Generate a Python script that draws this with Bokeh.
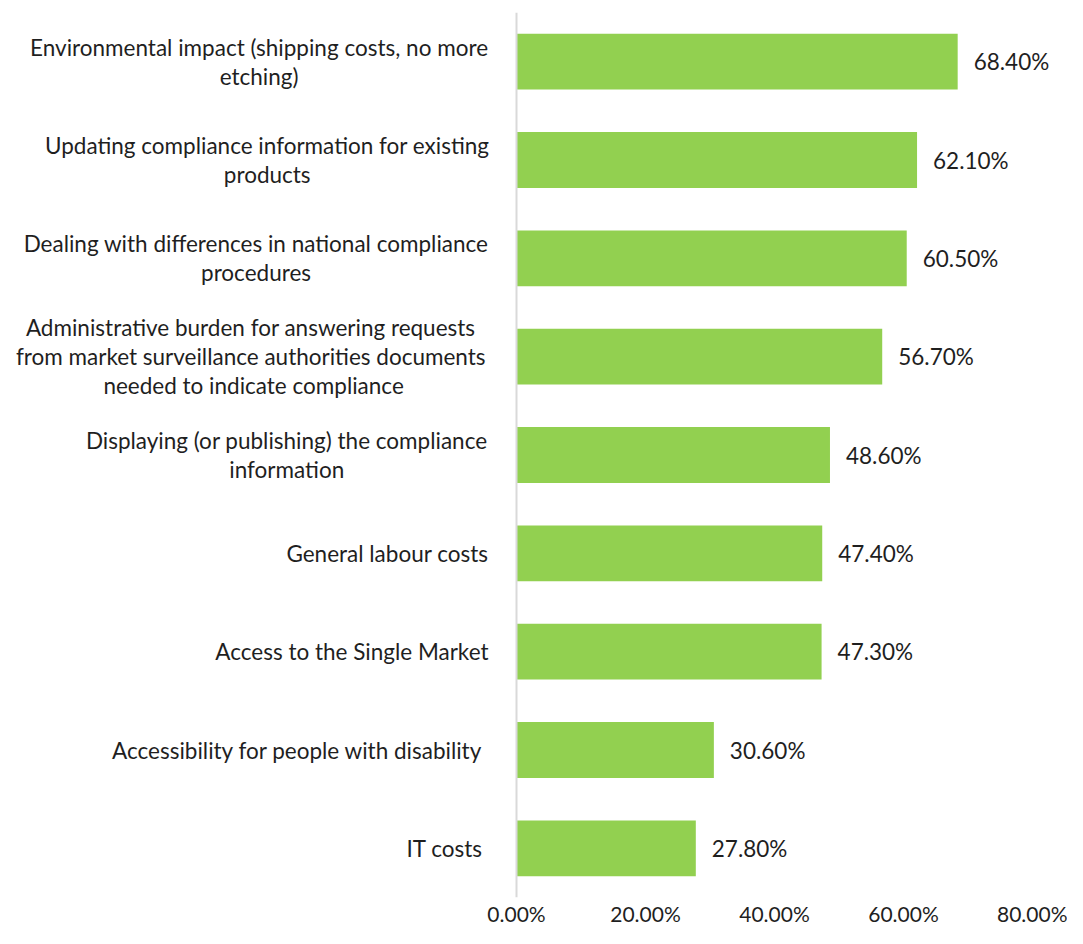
from bokeh.plotting import figure
from bokeh.models import Range1d, FactorRange, FixedTicker, Span, ColumnDataSource
from bokeh.core.properties import value
from bokeh.embed import file_html
from bokeh.resources import INLINE

# ---- data (top to bottom) ----
categories = [
    "Environmental impact (shipping costs, no more\netching)",
    "Updating compliance information for existing\nproducts",
    "Dealing with differences in national compliance\nprocedures",
    "Administrative burden for answering requests \nfrom market surveillance authorities  documents\nneeded to indicate compliance",
    "Displaying (or publishing) the compliance\ninformation",
    "General labour costs",
    "Access to the Single Market",
    "Accessibility for people with disability ",
    "IT costs ",
]
values = [68.4, 62.1, 60.5, 56.7, 48.6, 47.4, 47.3, 30.6, 27.8]
x_ticks = [0, 20, 40, 60, 80]
tick_labels = ["0.00%", "20.00%", "40.00%", "60.00%", "80.00%"]

# ---- layout constants ----
FONT = "Lato"
FS = 22.5
TICK_FS = 21
W, H = 1067, 928
ZERO_PX = 516          # px from figure left to zero line
MAX_PX = 1032          # px from figure left to 80 %
X_MAX = 80
ppu = (MAX_PX - ZERO_PX) / X_MAX
x_start = -ZERO_PX / ppu
x_end = (W - ZERO_PX) / ppu
LABEL_GAP = 28
LINE_PX = 29

# approximate glyph widths (em) used to center multi-line labels
_w = {' ': 0.20, '(': 0.31, ')': 0.31, ',': 0.25, '.': 0.25, 'f': 0.30, 'i': 0.23,
      'j': 0.23, 'l': 0.23, 'r': 0.35, 't': 0.33, 'm': 0.83, 'w': 0.74, 'c': 0.47,
      's': 0.42, 'k': 0.48, 'v': 0.49, 'x': 0.48, 'y': 0.49, 'z': 0.45,
      'A': 0.66, 'D': 0.72, 'E': 0.58, 'G': 0.72, 'I': 0.27, 'M': 0.87, 'S': 0.52,
      'T': 0.57, 'U': 0.71}

def text_w(s):
    collapsed = " ".join(s.split()) + (" " if s.endswith(" ") else "")
    return sum(_w.get(ch, 0.54) for ch in collapsed) * FS * 1.026

def label_offset(lbl):
    lines = lbl.split("\n")
    if len(lines) == 1:
        return -LABEL_GAP
    return -LABEL_GAP - max(text_w(l) for l in lines) / 2

single = [c for c in categories if "\n" not in c]
multi = [c for c in categories if "\n" in c]

src = ColumnDataSource(dict(cat=categories, val=values,
                            txt=["%.2f%%" % v for v in values],
                            zero=[0] * len(values)))
src_multi = ColumnDataSource(dict(cat=multi, zero=[0] * len(multi),
                                  off=[label_offset(c) for c in multi]))
src_single = ColumnDataSource(dict(cat=single, zero=[0] * len(single)))

p = figure(width=W, height=H, output_backend="svg", toolbar_location=None,
           x_range=Range1d(x_start, x_end),
           y_range=FactorRange(factors=list(reversed(categories)), range_padding=0),
           min_border_left=0, min_border_right=0, min_border_top=12,
           min_border_bottom=30)
p.outline_line_color = None
p.grid.visible = False
p.yaxis.visible = False

p.hbar(y="cat", left=0, right="val", height=0.567, source=src,
       fill_color="#92D050", line_color=None)

p.add_layout(Span(location=0, dimension="height", line_color="#d9d9d9", line_width=2))

common = dict(text_font=value(FONT), text_font_size=f"{FS}px", text_color="#1f1f1f",
              text_baseline="middle")
p.text(x="zero", y="cat", text="cat", source=src_single, x_offset=-LABEL_GAP,
       text_align="right", **common)
p.text(x="zero", y="cat", text="cat", source=src_multi, x_offset="off",
       text_align="center", text_line_height=LINE_PX / (1.2 * FS), **common)
p.text(x="val", y="cat", text="txt", source=src, x_offset=16,
       text_align="left", **common)

ax = p.xaxis[0]
ax.ticker = FixedTicker(ticks=x_ticks)
ax.major_label_overrides = {t: l for t, l in zip(x_ticks, tick_labels)}
ax.axis_line_color = None
ax.major_tick_line_color = None
ax.minor_tick_line_color = None
ax.major_tick_out = 0
ax.major_tick_in = 0
ax.major_label_standoff = 3
ax.major_label_text_font = FONT
ax.major_label_text_font_size = f"{TICK_FS}px"
ax.major_label_text_color = "#1f1f1f"

open("out.html", "w").write(file_html(p, INLINE))
